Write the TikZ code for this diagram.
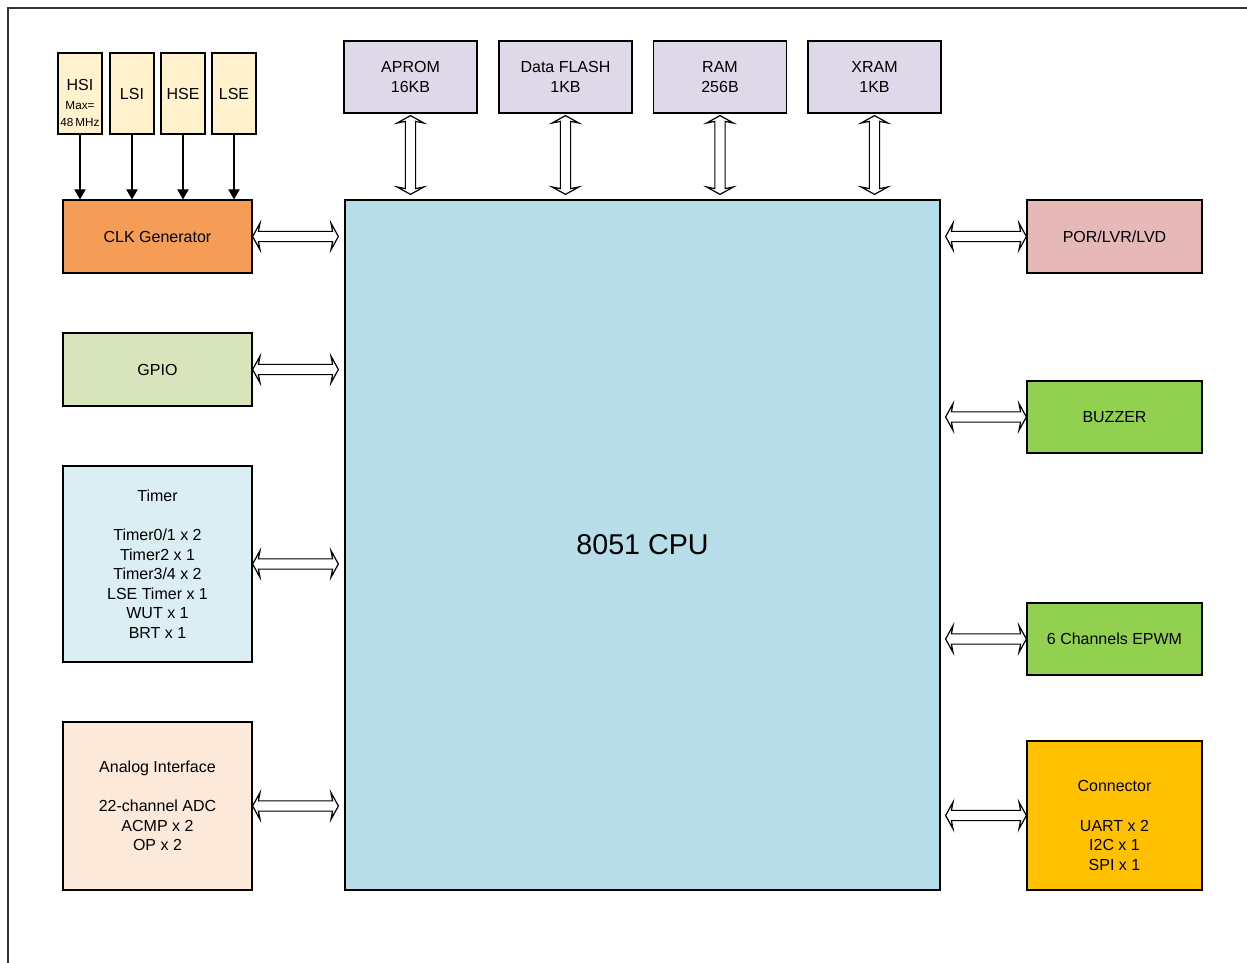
\documentclass[tikz,border=0pt]{standalone}
\usepackage{fontspec}
\setmainfont{Liberation Sans}
\usetikzlibrary{calc,shapes.arrows,arrows.meta}

\definecolor{oscfill}{HTML}{FFF2CC}
\definecolor{clkfill}{HTML}{F59D56}
\definecolor{gpiofill}{HTML}{D7E4BC}
\definecolor{timerfill}{HTML}{DAEEF3}
\definecolor{adcfill}{HTML}{FDE9D9}
\definecolor{cpufill}{HTML}{B7DDE8}
\definecolor{memfill}{HTML}{DFD8E8}
\definecolor{porfill}{HTML}{E6B9B8}
\definecolor{pwmfill}{HTML}{92D050}
\definecolor{connfill}{HTML}{FFC000}

\tikzset{
  blk/.style={draw=black, line width=0.9pt, inner sep=0pt, align=center, font=\fontsize{12}{14.7}\selectfont},
  osc/.style={blk, fill=oscfill, minimum width=33pt, minimum height=60.75pt},
  side/.style={blk, minimum width=141.75pt},
  mem/.style={blk, fill=memfill, minimum width=99.75pt, minimum height=54pt},
  periph/.style={blk, minimum width=131.25pt},
  txt/.style={inner sep=0pt, align=center, font=\fontsize{12}{14.7}\selectfont},
  feed/.style={line width=0.8pt, -{Triangle[length=7.5pt, width=8.5pt]}},
  busarrow/.style={shape=double arrow, draw=black, fill=white, line width=0.9pt, inner sep=0pt, outer sep=0pt,
    text height=3.4pt, text depth=3.4pt, double arrow head extend=6.2pt, double arrow tip angle=122, double arrow head indent=1.2pt},
  bus/.style={to path={let \p1=(\tikztostart), \p2=(\tikztotarget), \n1={veclen(\x2-\x1,\y2-\y1)} in
    (\tikztostart) -- (\tikztotarget) node[busarrow, midway, sloped, minimum height=\n1] {}}},
}

\begin{document}
\begin{tikzpicture}[x=0.75pt,y=0.75pt,yscale=-1,xscale=1]
  \useasboundingbox (0,0) rectangle (1247,963);

  %Frame
  \draw [line width=1.1pt, draw=black!80] (1247,8) -- (8,8) -- (8,963);

  %Shape: CPU
  \node [blk, fill=cpufill, minimum width=446.25pt, minimum height=517.5pt, font=\fontsize{21.5}{26}\selectfont] (cpu) at (642.5,545) {8051 CPU};

  %Shape: Oscillators
  \node [osc] (hsi) at (80,93.5) {};
  \node [osc] (lsi) at (132,93.5) {LSI};
  \node [osc] (hse) at (183,93.5) {HSE};
  \node [osc] (lse) at (234,93.5) {LSE};
  % Text Node
  \node [txt] (hsitext) at (80,103) {HSI\\[-1pt]{\fontsize{8.8}{12}\selectfont Max=}\\[-2pt]{\fontsize{8.8}{12}\selectfont 48\,MHz}};

  %Shape: Left blocks
  \node [side, fill=clkfill, minimum height=54.75pt] (clk) at (157.5,236.5) {CLK Generator};
  \node [side, fill=gpiofill, minimum height=54.75pt] (gpio) at (157.5,369.5) {GPIO};
  \node [side, fill=timerfill, minimum height=147pt] (timer) at (157.5,564) {Timer\\[14.7pt]Timer0/1 x 2\\Timer2 x 1\\Timer3/4 x 2\\LSE Timer x 1\\WUT x 1\\BRT x 1};
  \node [side, fill=adcfill, minimum height=126pt] (adc) at (157.5,806) {Analog Interface\\[14.7pt]22-channel ADC\\ACMP x 2\\OP x 2};

  %Shape: Memories
  \node [mem] (aprom) at (410.5,77) {APROM\\16KB};
  \node [mem] (dflash) at (565.5,77) {Data FLASH\\1KB};
  \node [mem] (ram) at (720,77) {RAM\\256B};
  \node [mem] (xram) at (874.5,77) {XRAM\\1KB};

  %Shape: Right blocks
  \node [periph, fill=porfill, minimum height=54.75pt] (por) at (1114.5,236.5) {POR/LVR/LVD};
  \node [periph, fill=pwmfill, minimum height=54pt] (buzzer) at (1114.5,417) {BUZZER};
  \node [periph, fill=pwmfill, minimum height=54pt] (epwm) at (1114.5,639) {6 Channels EPWM};
  \node [periph, fill=connfill, minimum height=111.75pt] (conn) at (1114.5,815.5) {};
  % Text Node
  \node [txt] (conntext) at (1114.5,825.5) {Connector\\[14.7pt]UART x 2\\I2C x 1\\SPI x 1};

  %Clock feeds
  \foreach \s in {hsi,lsi,hse,lse}
    \draw [feed] (\s.south) -- (\s.south |- clk.north);

  %Buses left
  \foreach \b in {clk,gpio,timer,adc}
    \path (\b.east) to[bus] ($(\b.east -| cpu.west)+(-6,0)$);
  %Buses top
  \foreach \b in {aprom,dflash,ram,xram}
    \path ($(\b.south)+(0,2)$) to[bus] ($(\b.south |- cpu.north)+(0,-5)$);
  %Buses right
  \foreach \b in {por,buzzer,epwm,conn}
    \path ($(\b.west -| cpu.east)+(5,0)$) to[bus] (\b.west);
\end{tikzpicture}
\end{document}
